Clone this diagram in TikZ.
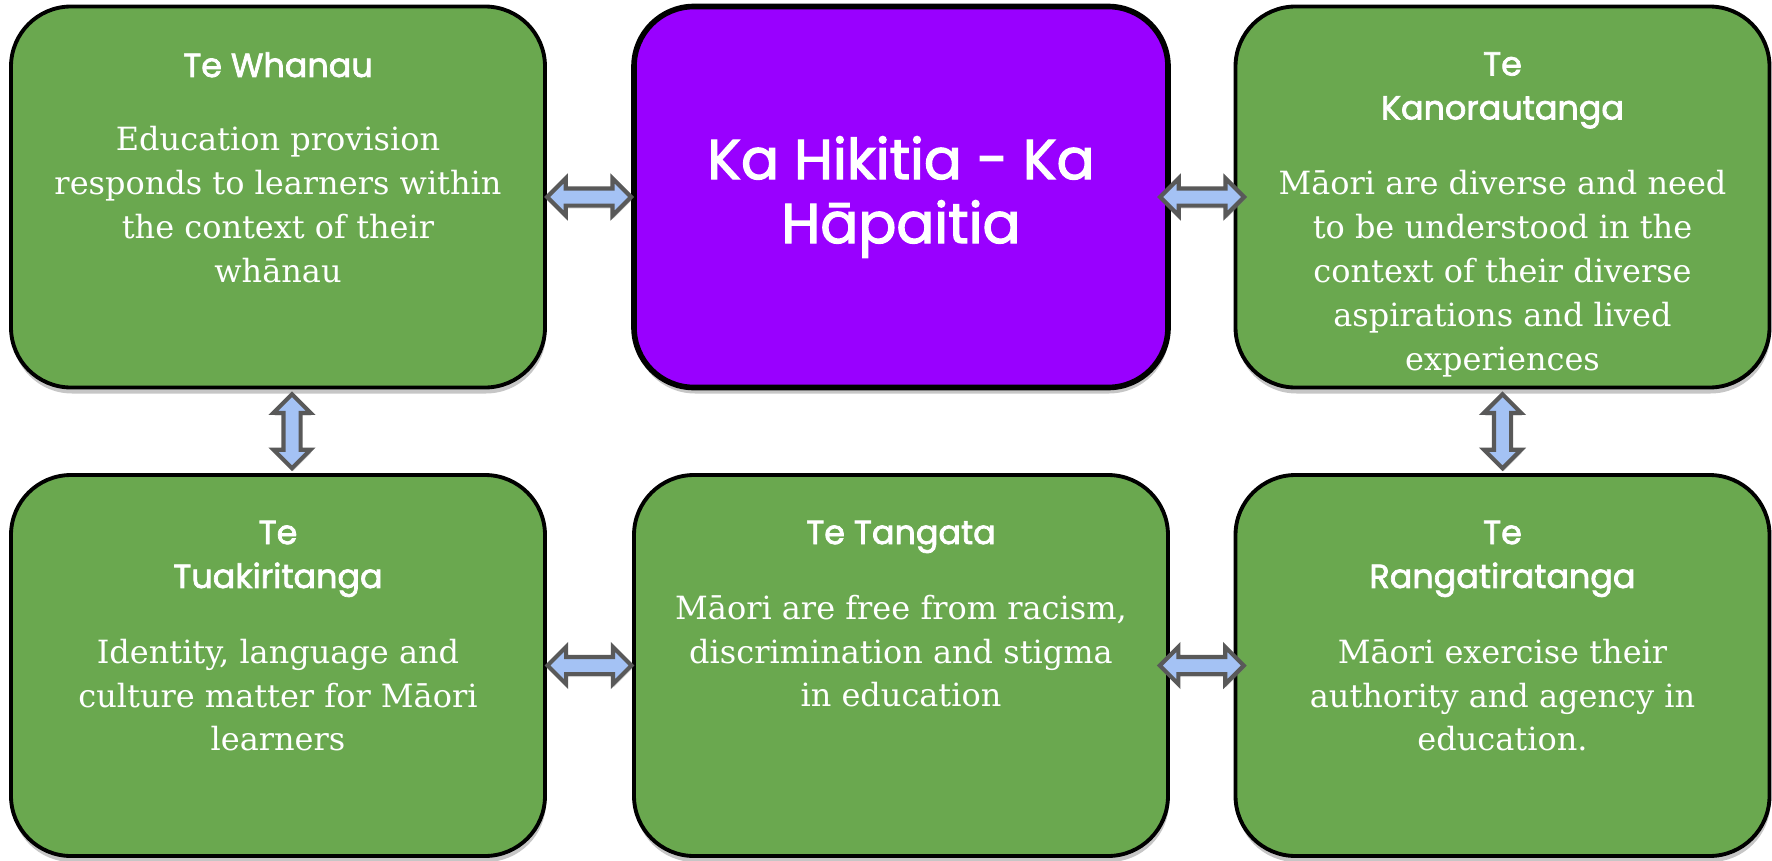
\documentclass[tikz,border=0pt]{standalone}
\usepackage{fontspec}
\usetikzlibrary{positioning,calc,shapes.arrows,shadows}
\newfontfamily\headfont{Poppins}[RawFeature={embolden=2.2}]
\newfontfamily\bodyfont{DejaVu Serif}
\definecolor{cardgreen}{HTML}{6AA84F}
\definecolor{cardpurple}{HTML}{9900FF}
\definecolor{linkblue}{HTML}{A4C2F4}
\definecolor{linkgray}{HTML}{595959}
\tikzset{
  card/.style={draw=black, line width=1.1pt, fill=cardgreen, rounded corners=0.6cm,
    minimum width=5.34cm, minimum height=3.81cm, inner sep=0pt,
    drop shadow={shadow xshift=0.01cm, shadow yshift=-0.06cm, opacity=0.45}},
  head/.style={text=white, align=center, inner sep=0pt, font={\headfont\fontsize{9.5}{12.5}\selectfont}},
  body/.style={text=white, align=center, inner sep=0pt, font={\bodyfont\fontsize{9.1}{12.5}\selectfont}},
  title/.style={text=white, align=center, inner sep=0pt, font={\headfont\fontsize{16}{18.2}\selectfont}},
  link/.style={double arrow, draw=linkgray, fill=linkblue, line width=1.2pt,
    inner xsep=0pt, inner ysep=0.065cm, minimum height=0.84cm, minimum width=0.37cm,
    double arrow head extend=0.1cm,
    drop shadow={shadow xshift=0.01cm, shadow yshift=-0.03cm, opacity=0.25}}
}

\begin{document}
\begin{tikzpicture}
\useasboundingbox (0,0) rectangle (17.72,-8.60);

% cards
\node[card] (wh) at (2.78,-1.97) {};
\node[card, fill=cardpurple, line width=1.6pt] (hk) at (9.01,-1.97) {};
\node[card] (ka) at (15.025,-1.97) {};
\node[card] (tu) at (2.78,-6.655) {};
\node[card] (ta) at (9.01,-6.655) {};
\node[card] (ra) at (15.025,-6.655) {};

% texts
\node[title] (hkt) at (hk.center) {Ka Hikitia - Ka\\Hāpaitia};

\node[head, below=0.47cm of wh.north] (whh) {Te Whanau};
\node[body, below=1.21cm of wh.north] (whb) {Education provision\\responds to learners within\\the context of their\\whānau};

\node[head, below=0.47cm of ka.north] (kah) {Te\\Kanorautanga};
\node[body, below=1.65cm of ka.north] (kab) {Māori are diverse and need\\to be understood in the\\context of their diverse\\aspirations and lived\\experiences};

\node[head, below=0.47cm of tu.north] (tuh) {Te\\Tuakiritanga};
\node[body, below=1.65cm of tu.north] (tub) {Identity, language and\\culture matter for Māori\\learners};

\node[head, below=0.47cm of ta.north] (tah) {Te Tangata};
\node[body, below=1.21cm of ta.north] (tab) {Māori are free from racism,\\discrimination and stigma\\in education};

\node[head, below=0.47cm of ra.north] (rah) {Te\\Rangatiratanga};
\node[body, below=1.65cm of ra.north] (rab) {Māori exercise their\\authority and agency in\\education.};

% links
\node[link] (l1) at ($(wh.east)!0.5!(hk.west)$) {};
\node[link] (l2) at ($(hk.east)!0.5!(ka.west)$) {};
\node[link] (l3) at ($(tu.east)!0.5!(ta.west)$) {};
\node[link] (l4) at ($(ta.east)!0.5!(ra.west)$) {};
\node[link, rotate=90, minimum height=0.74cm] (l5) at ($(wh.south)!0.5!(tu.north)+(0.14,0)$) {};
\node[link, rotate=90, minimum height=0.74cm] (l6) at ($(ka.south)!0.5!(ra.north)$) {};
\end{tikzpicture}
\end{document}
